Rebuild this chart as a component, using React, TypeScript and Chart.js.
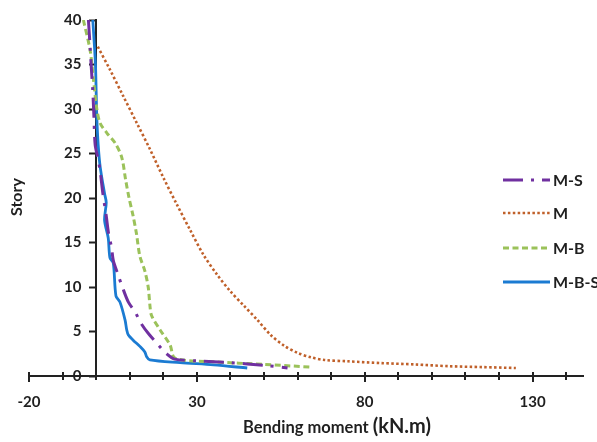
import { useEffect, useRef } from "react";
import { Chart, registerables } from "chart.js";
Chart.register(...registerables);

// ---- data ----
const seriesNames = ["M-S", "M", "M-B", "M-B-S"];

const msMoment = [-2.3, -1.8, -1.5, -1, -0.7, -0.3, 0.5, 1.2, 2, 3, 3.7, 4.6, 5.1, 6.6, 7.9, 9.6, 11.6, 13.4, 15.5, 18.5, 21, 23.4, 30, 40, 50, 57];
const msStory = [40, 37, 35, 32, 29.5, 26, 24.5, 23, 20.5, 18, 16, 14.4, 13, 11.3, 9.9, 8.3, 7.2, 5.9, 4.8, 3.5, 2.5, 1.9, 1.7, 1.5, 1.2, 0.9];

const mMoment = [0.5, 4, 8, 12, 16, 20, 24, 28, 32, 36, 40, 44, 48, 52, 56, 60, 64, 68, 75, 85, 95, 105, 115, 125];
const mStory = [37, 34.5, 31.5, 28.5, 25.5, 22.3, 19.3, 16.4, 13.6, 11.4, 9.5, 7.9, 6.3, 4.6, 3.4, 2.6, 2.1, 1.8, 1.65, 1.45, 1.3, 1.1, 1.0, 0.9];

const mbMoment = [-3.8, -1.8, -0.8, 0.2, 1.2, 3.2, 5.6, 7.6, 8.8, 9.8, 11, 12, 13, 14.5, 15.5, 16, 16.5, 19, 22, 23.5, 35, 50, 64];
const mbStory = [40, 36.6, 33.3, 30, 28.4, 27.3, 26.2, 24.6, 22, 20, 18, 16, 13.5, 11.8, 10, 8, 6.8, 5.2, 3.5, 2, 1.6, 1.3, 1.0];

const mbsMoment = [-1, -0.5, -0.2, 0, 0.2, 0.6, 1.2, 2.5, 3, 2.5, 3.6, 4.1, 5.1, 5.9, 7.1, 8.6, 9.1, 9.6, 11.1, 13.1, 14.5, 15, 16, 25, 35, 45];
const mbsStory = [40, 37, 35, 32, 29, 26, 23.5, 20.5, 19.5, 17.5, 15.5, 13.3, 12.7, 9, 8.3, 6.3, 5.2, 4.6, 4, 3.3, 2.7, 2.2, 1.8, 1.5, 1.25, 0.9];

const xLabelValues = [-20, 30, 80, 130];
const yTickStep = 5;

const FONT = "Lato, 'Open Sans', sans-serif";
const TEXT = "#1f1f1f";

const toPts = (xs: number[], ys: number[]) => xs.map((x, i) => ({ x, y: ys[i] }));

const styles = [
  { color: "#7030A0", dash: [20, 8, 3, 8], width: 3 },
  { color: "#C0602A", dash: [2.5, 2.4], width: 2.6 },
  { color: "#9BC25A", dash: [6, 3.5], width: 3 },
  { color: "#1B7BD2", dash: [], width: 2.8 },
];

const legendPlugin = {
  id: "customLegend",
  afterDraw(chart: any) {
    const ctx = chart.ctx;
    const ys = [180, 213, 248, 282];
    ctx.save();
    chart.data.datasets.forEach((ds: any, i: number) => {
      const y = ys[i];
      ctx.beginPath();
      ctx.strokeStyle = ds.borderColor;
      ctx.lineWidth = ds.borderWidth;
      ctx.setLineDash(ds.borderDash || []);
      ctx.moveTo(503, y);
      ctx.lineTo(550, y);
      ctx.stroke();
      ctx.setLineDash([]);
      ctx.fillStyle = TEXT;
      ctx.font = `bold 16px ${FONT}`;
      ctx.textBaseline = "middle";
      ctx.textAlign = "left";
      ctx.fillText(ds.label, 553, y + 1);
    });
    ctx.restore();
  },
};

const axisExtrasPlugin = {
  id: "axisExtras",
  afterDraw(chart: any) {
    const ctx = chart.ctx;
    const xs = chart.scales.x;
    const ys = chart.scales.y;
    const y0 = ys.getPixelForValue(0);
    ctx.save();
    ctx.strokeStyle = "#222";
    ctx.lineWidth = 2;
    xs.ticks.forEach((t: any) => {
      const px = Math.round(xs.getPixelForValue(t.value));
      const big = xLabelValues.includes(t.value);
      ctx.beginPath();
      ctx.moveTo(px, y0 - 4);
      ctx.lineTo(px, y0 + (big ? 6 : 4));
      ctx.stroke();
    });
    // titles
    ctx.fillStyle = TEXT;
    ctx.textBaseline = "alphabetic";
    ctx.textAlign = "left";
    ctx.font = `bold 16.5px ${FONT}`;
    const part1 = "Bending moment ";
    ctx.fillText(part1, 243, 433);
    const w1 = ctx.measureText(part1).width;
    ctx.font = `bold 20px ${FONT}`;
    ctx.fillText("(kN.m)", 243 + w1, 433);
    ctx.translate(22, 197);
    ctx.rotate(-Math.PI / 2);
    ctx.font = `bold 16px ${FONT}`;
    ctx.textAlign = "center";
    ctx.fillText("Story", 0, 0);
    ctx.restore();
  },
};

export default function App() {
  const ref = useRef<HTMLCanvasElement>(null);
  useEffect(() => {
    const datasets = [
      toPts(msMoment, msStory),
      toPts(mMoment, mStory),
      toPts(mbMoment, mbStory),
      toPts(mbsMoment, mbsStory),
    ].map((data, i) => ({
      label: seriesNames[i],
      data,
      showLine: true,
      borderColor: styles[i].color,
      backgroundColor: styles[i].color,
      borderWidth: styles[i].width,
      borderDash: styles[i].dash,
      pointRadius: 0,
      tension: 0.3,
      fill: false,
      xAxisID: "x",
      yAxisID: "y",
    }));
    const chart = new Chart(ref.current!, {
      type: "scatter",
      data: { datasets },
      options: {
        animation: false,
        responsive: false,
        devicePixelRatio: 1,
        layout: { padding: { left: 29, right: 14, top: 20, bottom: 66 } },
        plugins: { legend: { display: false }, tooltip: { enabled: false } },
        scales: {
          x: {
            type: "linear",
            position: { y: 0 } as any,
            min: -20,
            max: 145,
            afterFit: (s: any) => { s.height = 0; },
            ticks: {
              stepSize: 10,
              includeBounds: false,
              padding: 17,
              color: TEXT,
              font: { family: FONT, size: 15, weight: "bold" },
              maxRotation: 0,
              autoSkip: false,
              callback: (v: any) => (xLabelValues.includes(Number(v)) ? String(v) : ""),
            },
            grid: { display: false, drawTicks: false },
            border: { display: true, color: "#222", width: 2 },
          },
          y: {
            type: "linear",
            position: { x: 0 } as any,
            min: 0,
            max: 40,
            afterFit: (s: any) => { s.width = 0; },
            ticks: { stepSize: yTickStep, display: false },
            grid: { drawOnChartArea: false, drawTicks: true, tickLength: 6, color: "#222", tickWidth: 2 } as any,
            border: { display: true, color: "#222", width: 2 },
          },
          yLabels: {
            type: "linear",
            position: { x: -4.4 } as any,
            min: 0,
            max: 40,
            afterFit: (s: any) => { s.width = 0; },
            ticks: {
              stepSize: yTickStep,
              color: TEXT,
              font: { family: FONT, size: 15, weight: "bold" },
            },
            grid: { display: false, drawTicks: false },
            border: { display: false },
          },
        },
      },
      plugins: [legendPlugin, axisExtrasPlugin],
    });
    return () => chart.destroy();
  }, []);
  return (
    <div style={{ position: "absolute", left: 0, top: 0, width: 597, height: 442, background: "#fff" }}>
      <canvas ref={ref} width={597} height={442} />
    </div>
  );
}
